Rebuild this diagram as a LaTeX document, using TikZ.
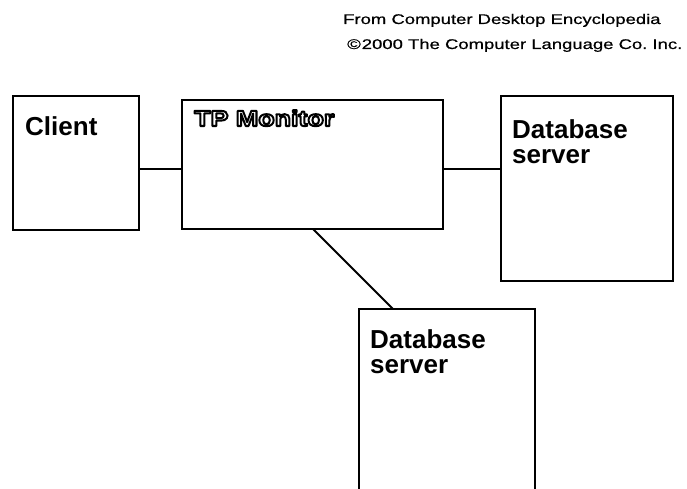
\documentclass[tikz,border=0pt]{standalone}
\usepackage{fontspec}
\setmainfont{Liberation Sans}
\newfontfamily\hdrfont[FakeStretch=1.32,FakeBold=0.6]{Liberation Sans}
\newfontfamily\tpfont[FakeStretch=1.22]{Liberation Sans Bold}
% hollow lettering: white fill, black stroke with round joins (PDF text render mode 2)
\newcommand{\hollowtext}[1]{\textcolor{white}{\special{pdf:literal direct 0 G 2 w 1 j 2 Tr}#1\special{pdf:literal direct 0 Tr 0 j}}}
\begin{document}
\begin{tikzpicture}[x=1pt,y=-1pt,
  box/.style={draw=black, line width=2pt, fill=white, anchor=north west,
    inner sep=0pt, outer sep=0pt},
  lbl/.style={anchor=base west, inner sep=0pt, font=\fontsize{26}{28}\selectfont\bfseries},
  hdr/.style={anchor=base west, inner sep=0pt, font=\fontsize{14}{16}\hdrfont},
  wire/.style={line width=2pt}]
  \useasboundingbox (0,0) rectangle (687,489);

  % credit lines
  \node[hdr] (h1) at (343,24) {From Computer Desktop Encyclopedia};
  \node[hdr] (h2) at (347,49) {\textcopyright\kern1pt 2000 The Computer Language Co.\ Inc.};

  % boxes
  \node[box, minimum width=126pt, minimum height=134pt] (client) at (13,96) {};
  \node[box, minimum width=261pt, minimum height=129pt] (tp) at (182,100) {};
  \node[box, minimum width=172pt, minimum height=185pt] (db1) at (501,96) {};
  \node[box, minimum width=176pt, minimum height=200pt] (db2) at (359,309) {};

  % box titles
  \node[lbl] (tclient) at (25,136) {Client};
  \node[anchor=base west, inner sep=0pt, font=\fontsize{22}{24}\tpfont] (ttp) at (194,126)
    {\hollowtext{TP Monitor}};
  \node[lbl] (tdb1a) at (512,139) {Database};
  \node[lbl] (tdb1b) at (512,164) {server};
  \node[lbl] (tdb2a) at (370,348) {Database};
  \node[lbl] (tdb2b) at (370,373) {server};

  % connectors
  \coordinate (row) at (0,169);
  \draw[wire] (client.east |- row) -- (tp.west |- row);
  \draw[wire] (tp.east |- row) -- (db1.west |- row);
  \draw[wire] ([xshift=131pt]tp.south west) -- ([xshift=34pt]db2.north west);
\end{tikzpicture}
\end{document}
